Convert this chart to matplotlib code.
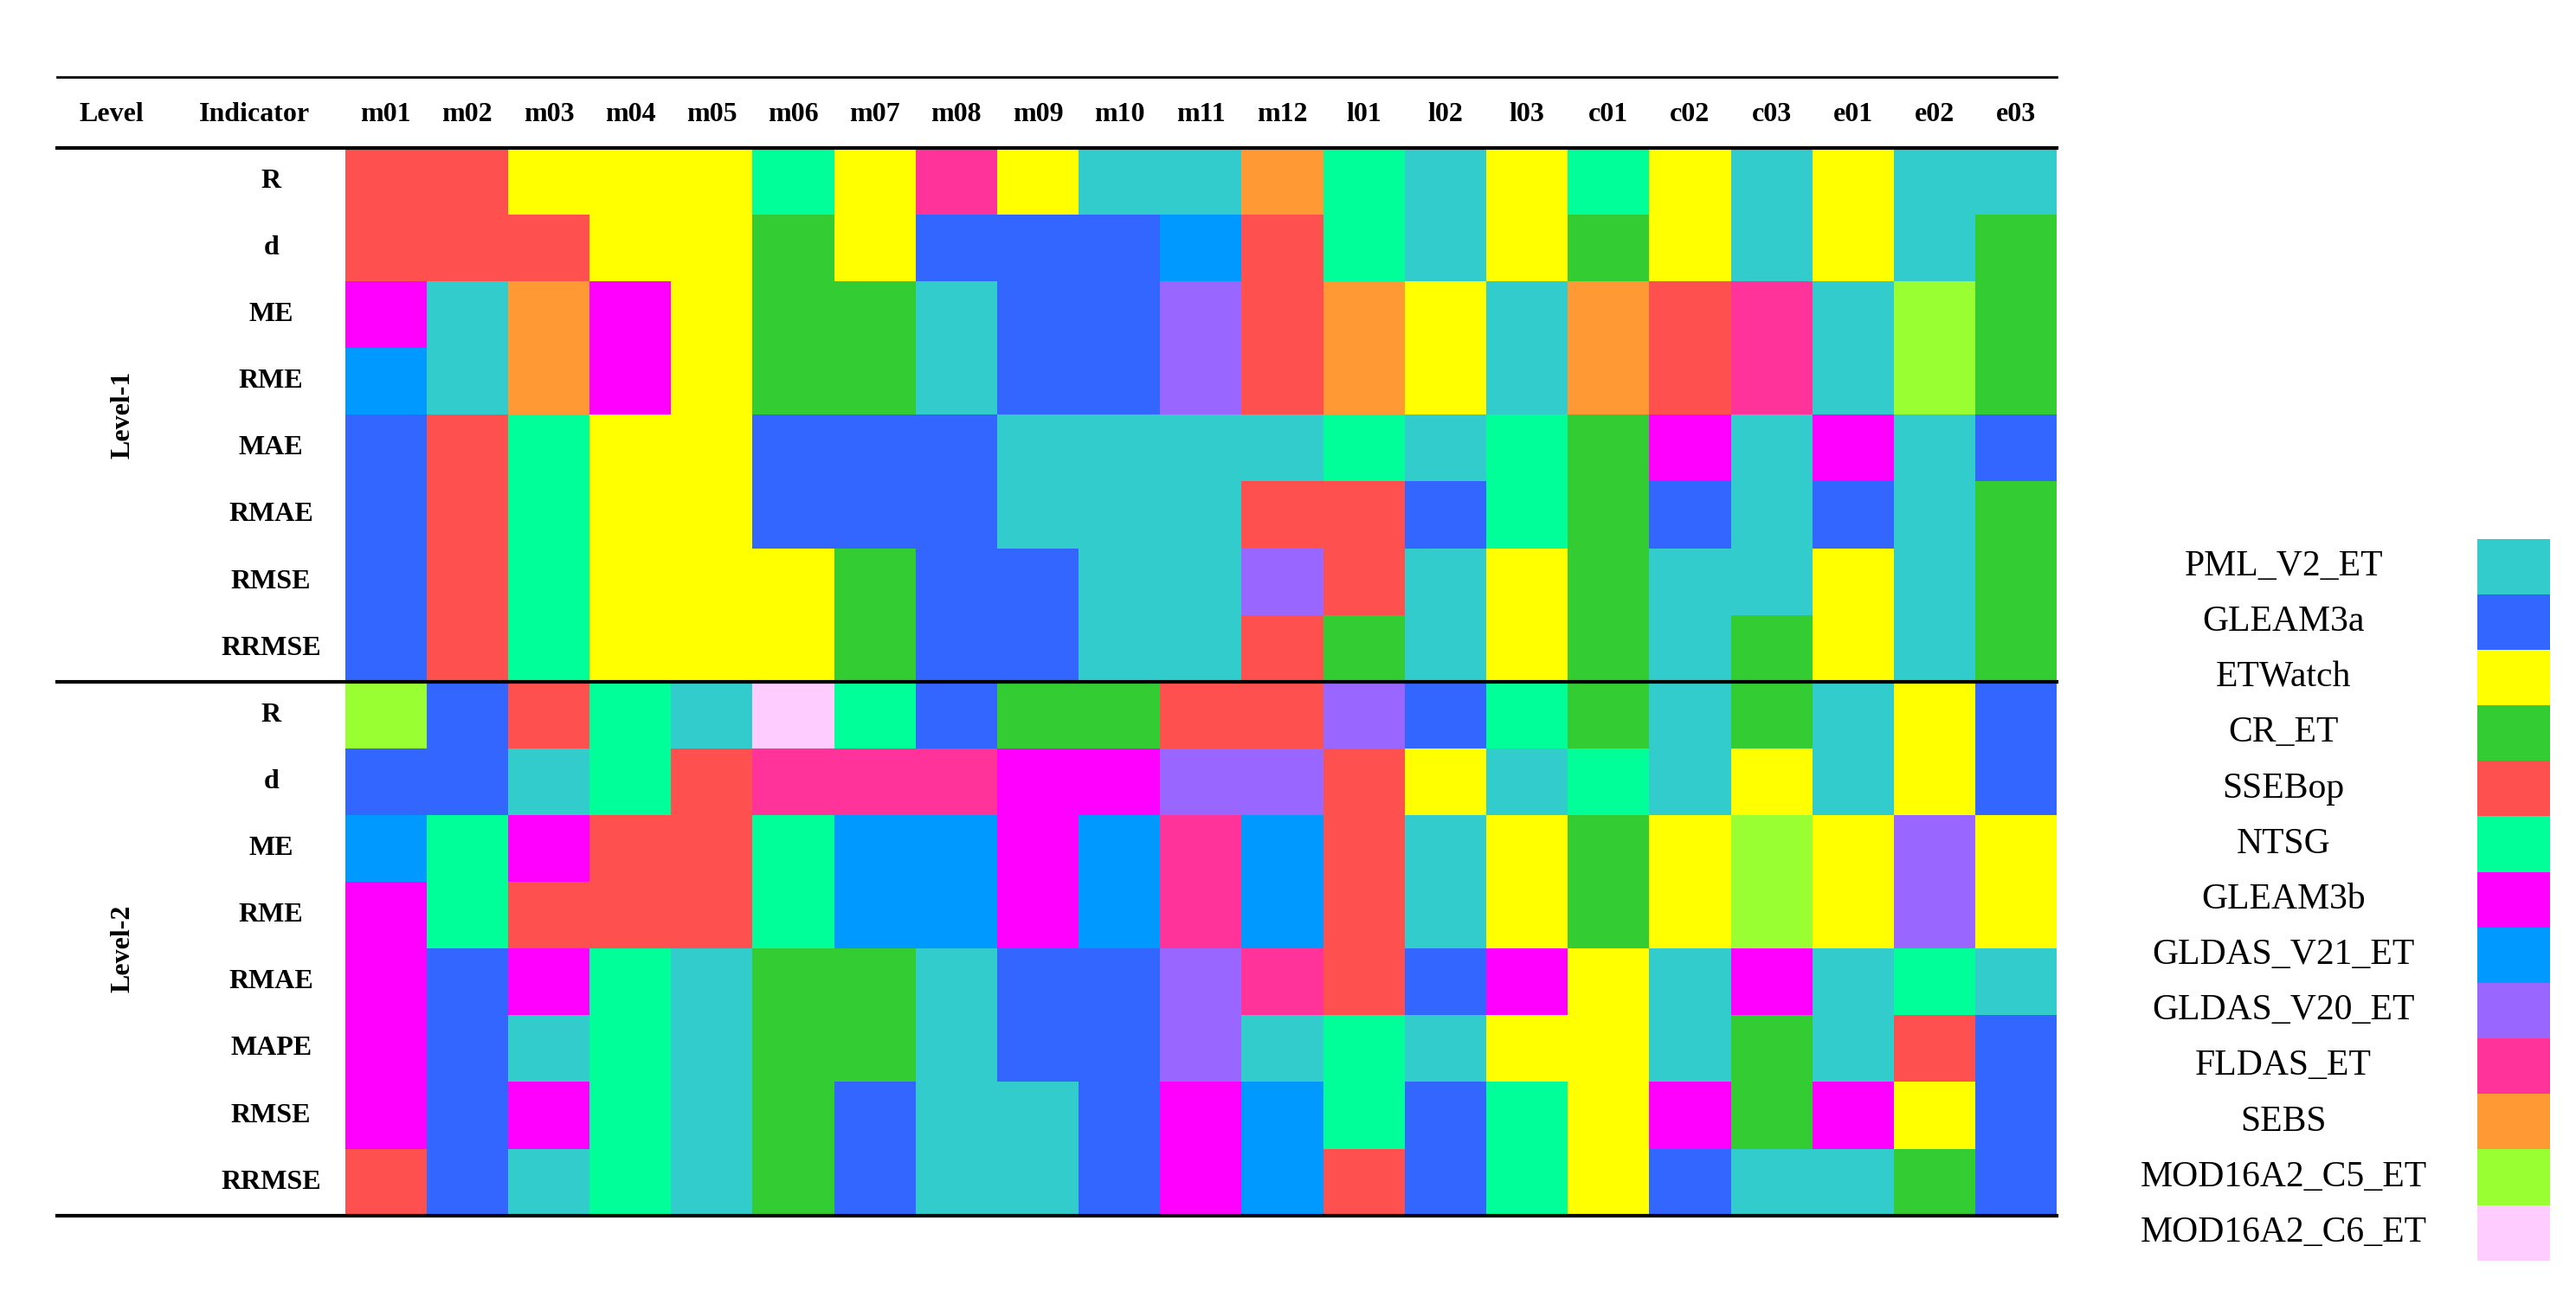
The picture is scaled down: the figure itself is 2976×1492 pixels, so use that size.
import matplotlib
matplotlib.use("Agg")
import matplotlib.pyplot as plt
import numpy as np
from matplotlib.colors import ListedColormap

columns = ["m01","m02","m03","m04","m05","m06","m07","m08","m09","m10","m11","m12",
           "l01","l02","l03","c01","c02","c03","e01","e02","e03"]
level1_ind = ["R","d","ME","RME","MAE","RMAE","RMSE","RRMSE"]
level2_ind = ["R","d","ME","RME","RMAE","MAPE","RMSE","RRMSE"]
products = ["PML_V2_ET","GLEAM3a","ETWatch","CR_ET","SSEBop","NTSG","GLEAM3b",
            "GLDAS_V21_ET","GLDAS_V20_ET","FLDAS_ET","SEBS","MOD16A2_C5_ET","MOD16A2_C6_ET"]
codes = ["P","G","E","C","S","N","B","H","V","F","O","5","6"]
colors = ["#33CCCC","#3366FF","#FFFF00","#33CC33","#FF5050","#00FF99","#FF00FF",
          "#0099FF","#9966FF","#FF3399","#FF9933","#99FF33","#FFCCFF"]

level1 = [
 "S S E E E N E F E P P O N P E N E P E P P",
 "S S S E E C E G G G H S N P E C E P E P C",
 "B P O B E C C P G G V S O E P O S F P 5 C",
 "H P O B E C C P G G V S O E P O S F P 5 C",
 "G S N E E G G G P P P P N P N C B P B P G",
 "G S N E E G G G P P P S S G N C G P G P C",
 "G S N E E E C G G P P V S P E C P P E P C",
 "G S N E E E C G G P P S C P E C P C E P C",
]
level2 = [
 "5 G S N P 6 N G C C S S V G N C P C P E G",
 "G G P N S F F F B B V V S E P N P E P E G",
 "H N B S S N H H B H F H S P E C E 5 E V E",
 "B N S S S N H H B H F H S P E C E 5 E V E",
 "B G B N P C C P G G V F S G B E P B P N P",
 "B G P N P C C P G G V P N P E E P C P S G",
 "B G B N P C G P P G B H N G N E B C B E G",
 "S G P N P C G P P G B H S G N E G P P C G",
]

grid = np.array([[codes.index(c) for c in r.split()] for r in level1 + level2])

plt.rcParams['font.family'] = ['Liberation Serif', 'DejaVu Serif']
fig = plt.figure(figsize=(29.76, 14.92), dpi=100)
ax = fig.add_axes([0, 0, 1, 1])
ax.set_xlim(0, 1568); ax.set_ylim(786, 0); ax.axis('off')

x0, x1, y0, y1 = 210, 1252, 90, 740
xe = np.linspace(x0, x1, len(columns) + 1)
ye = np.linspace(y0, y1, grid.shape[0] + 1)
cmap = ListedColormap(colors)
ax.pcolormesh(xe, ye, grid, cmap=cmap, vmin=-0.5, vmax=len(colors) - 0.5)

ch = (y1 - y0) / grid.shape[0]
cw = (x1 - x0) / len(columns)
fs = 23
ax.text(68, 70, "Level", ha='center', va='center', fontsize=fs, fontweight='bold')
ax.text(155, 70, "Indicator", ha='center', va='center', fontsize=fs, fontweight='bold')
for i, c in enumerate(columns):
    ax.text(x0 + cw * (i + 0.5), 70, c, ha='center', va='center', fontsize=fs, fontweight='bold')
for i, lab in enumerate(level1_ind + level2_ind):
    ax.text(165, y0 + ch * (i + 0.5), lab, ha='center', va='center', fontsize=fs, fontweight='bold')
ax.text(75, y0 + ch * 4, "Level-1", ha='center', va='center', rotation=90, fontsize=fs, fontweight='bold')
ax.text(75, y0 + ch * 12, "Level-2", ha='center', va='center', rotation=90, fontsize=fs, fontweight='bold')

ax.plot([35, x1], [47, 47], color='black', lw=2)
ax.plot([35, x1], [y0, y0], color='black', lw=3)
ax.plot([35, x1], [y0 + ch * 8, y0 + ch * 8], color='black', lw=3)
ax.plot([35, x1], [y1, y1], color='black', lw=3)

# legend
ly0, lh = 328, 33.8
for i, (p, col) in enumerate(zip(products, colors)):
    ax.add_patch(plt.Rectangle((1508, ly0 + i * lh), 44, lh, color=col, lw=0))
    ax.text(1390, ly0 + (i + 0.5) * lh, p, ha='center', va='center', fontsize=30)

fig.savefig("out.png", dpi=100)
